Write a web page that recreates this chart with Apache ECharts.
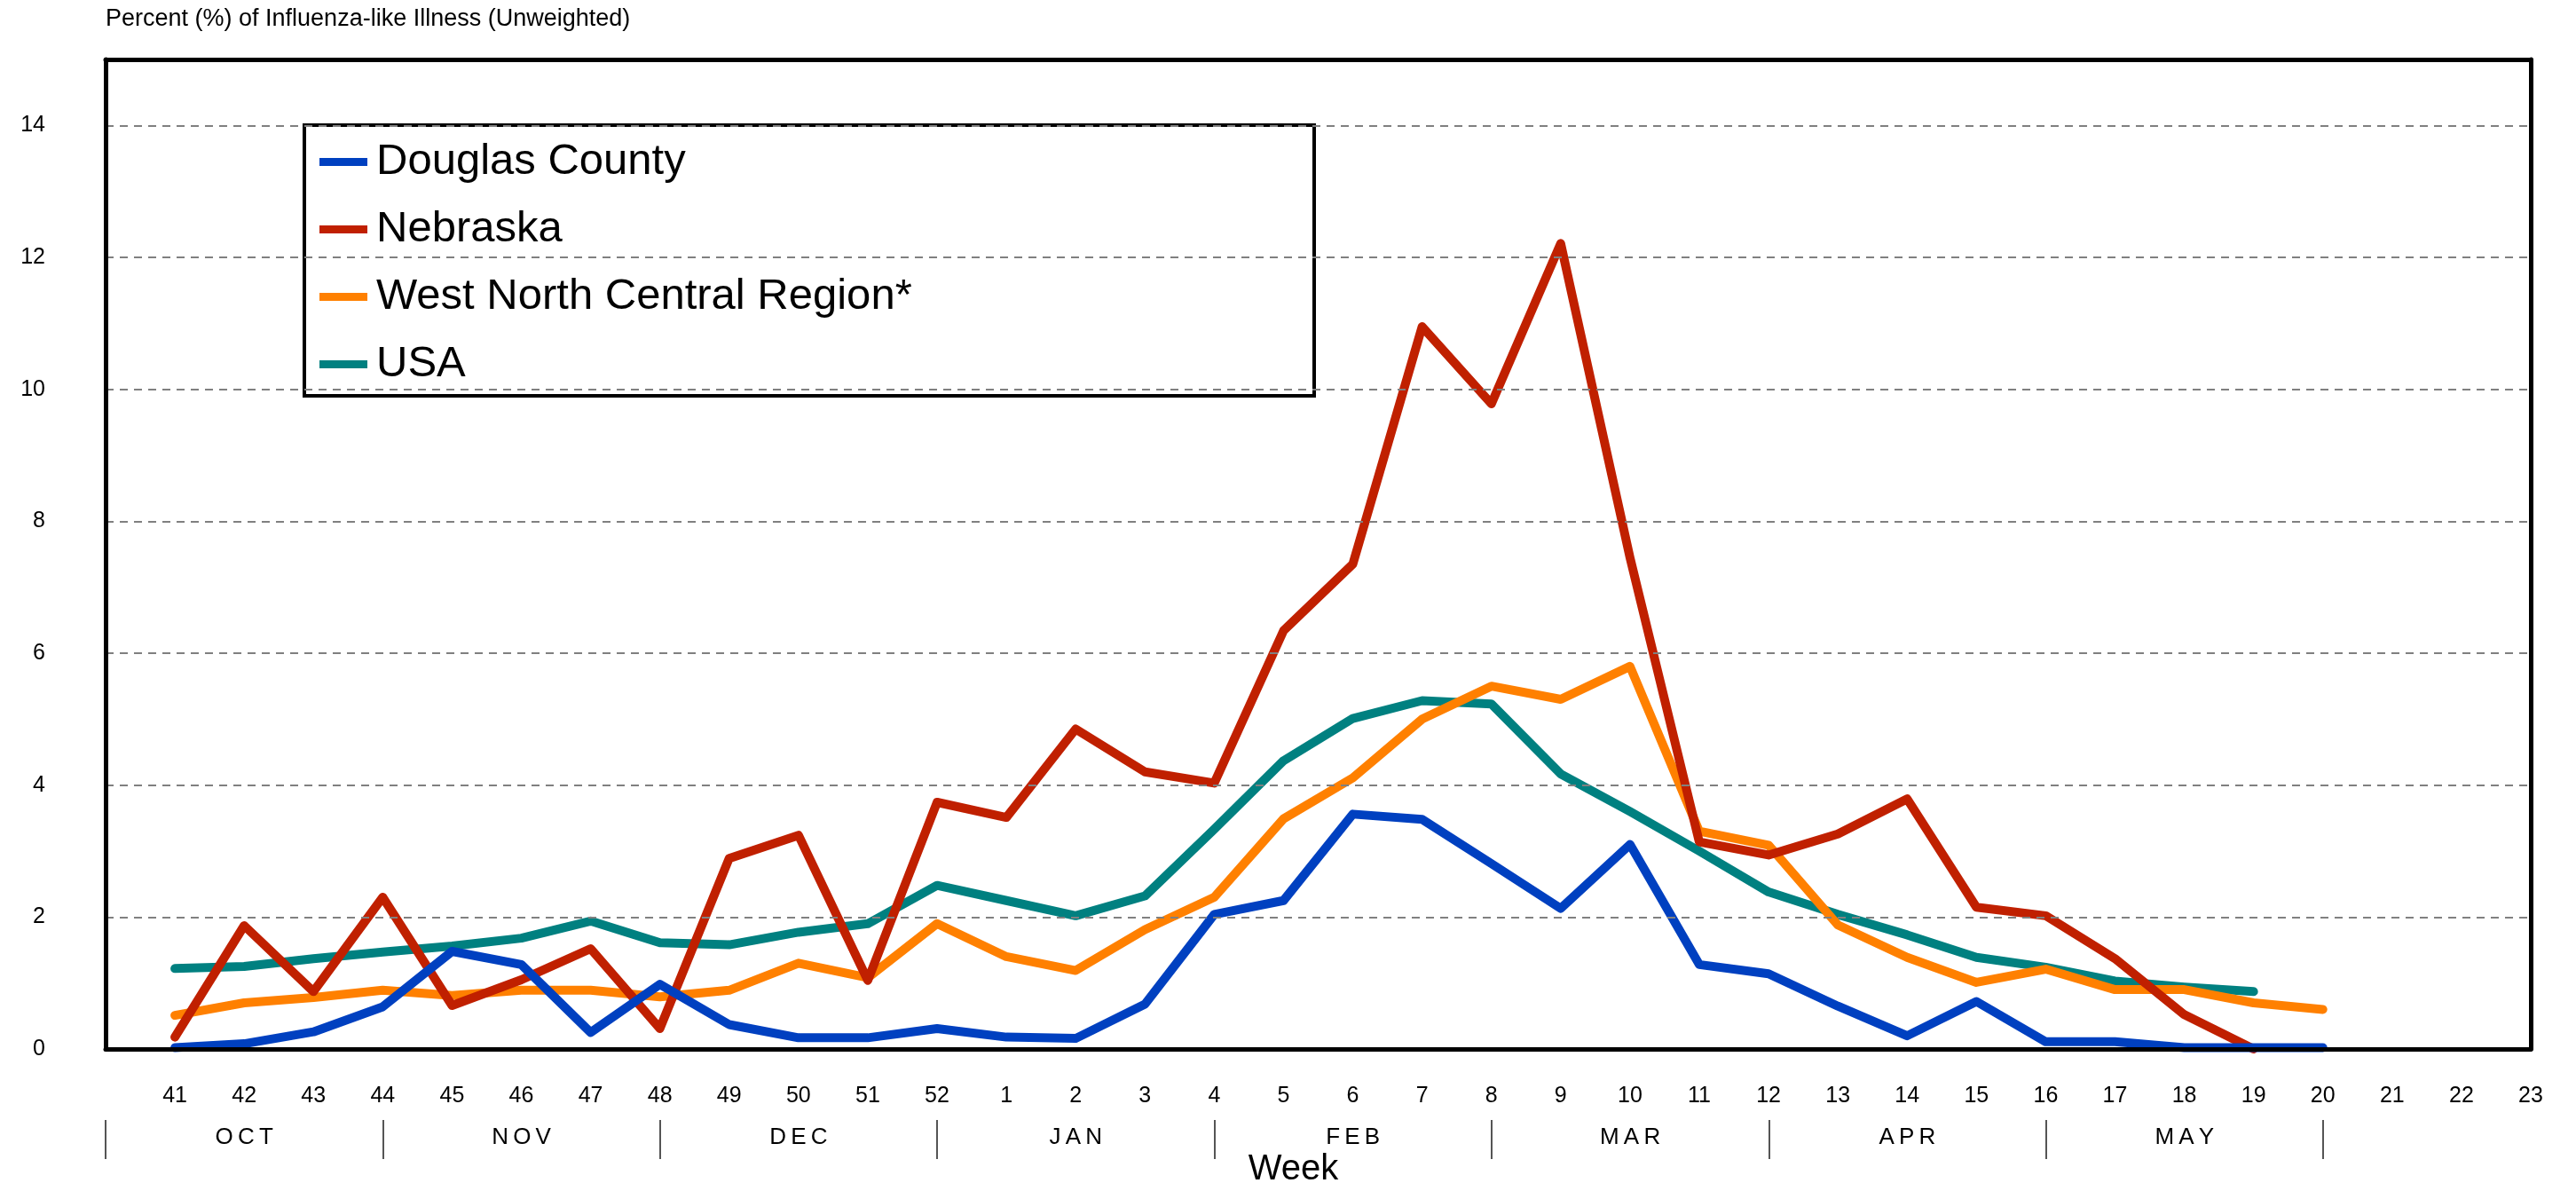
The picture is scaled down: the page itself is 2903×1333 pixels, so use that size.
<!DOCTYPE html>
<html>
<head>
<meta charset="utf-8">
<script src="https://cdn.jsdelivr.net/npm/echarts/dist/echarts.min.js"></script>
<style>
html,body{margin:0;padding:0;background:#fff;}
#chart{width:2903px;height:1333px;}
</style>
</head>
<body>
<div id="chart"></div>
<script>
// Week categories (first slot is the empty boundary before week 41)
const weeks = ['', '41','42','43','44','45','46','47','48','49','50','51','52',
  '1','2','3','4','5','6','7','8','9','10','11','12','13','14','15','16','17','18','19','20','21','22','23'];
const months = ['OCT','NOV','DEC','JAN','FEB','MAR','APR','MAY'];
const yTicks = [0, 2, 4, 6, 8, 10, 12, 14];

const seriesNames = ['Douglas County', 'Nebraska', 'West North Central Region*', 'USA'];

const douglas = [null,
  0.02,0.08,0.26,0.64,1.48,1.28,0.25,0.98,0.37,0.17,0.17,0.31,
  0.18,0.16,0.68,2.04,2.25,3.56,3.48,2.81,2.13,3.10,1.28,1.14,0.65,0.20,0.72,0.11,0.11,0.02,0.02,0.02,
  null,null,null];
const nebraska = [null,
  0.18,1.87,0.87,2.30,0.66,1.05,1.52,0.31,2.89,3.24,1.04,3.74,
  3.51,4.85,4.20,4.03,6.34,7.35,10.95,9.78,12.21,7.45,3.14,2.94,3.26,3.79,2.15,2.02,1.37,0.52,0.00,null,
  null,null,null];
const wnc = [null,
  0.51,0.70,0.78,0.89,0.81,0.89,0.89,0.79,0.89,1.30,1.08,1.90,
  1.40,1.19,1.81,2.30,3.49,4.11,5.00,5.50,5.30,5.80,3.30,3.09,1.88,1.39,1.01,1.21,0.90,0.90,0.70,0.60,
  null,null,null];
const usa = [null,
  1.22,1.25,1.37,1.47,1.56,1.68,1.94,1.61,1.58,1.77,1.90,2.48,
  2.25,2.02,2.32,3.33,4.37,5.01,5.28,5.23,4.17,3.60,3.00,2.38,2.04,1.73,1.39,1.24,1.03,0.94,0.87,null,
  null,null,null];

const colors = {
  'Douglas County': '#0040C0',
  'Nebraska': '#C02000',
  'West North Central Region*': '#FF8000',
  'USA': '#008080'
};
const FONT = '"Liberation Sans", Arial, Helvetica, sans-serif';

function lineSeries(name, data) {
  return {
    name: name, type: 'line', data: data,
    xAxisIndex: 0, yAxisIndex: 0,
    showSymbol: false, symbol: 'none', connectNulls: false,
    color: colors[name],
    lineStyle: { width: 10, color: colors[name], cap: 'round', join: 'round' },
    emphasis: { disabled: true },
    animation: false
  };
}

const chart = echarts.init(document.getElementById('chart'), null, { renderer: 'canvas' });
chart.setOption({
  animation: false,
  backgroundColor: '#ffffff',
  textStyle: { fontFamily: FONT, color: '#000' },
  title: {
    text: 'Percent (%) of Influenza-like Illness (Unweighted)',
    left: 119, top: 8, padding: 0,
    textStyle: { fontFamily: FONT, fontSize: 27, fontWeight: 'normal', color: '#000' }
  },
  graphic: [{
    type: 'rect', z: 3,
    shape: { x: 343, y: 141, width: 1138, height: 305 },
    style: { fill: '#fff', stroke: '#000', lineWidth: 4 }
  }],
  legend: {
    orient: 'vertical', left: 360, top: 158, padding: 0,
    itemGap: 27, itemWidth: 54, itemHeight: 9, icon: 'rect',
    data: seriesNames, selectedMode: false, z: 5,
    textStyle: { fontFamily: FONT, fontSize: 49, color: '#000', padding: [0, 0, 0, 5] }
  },
  grid: [
    { left: 119, right: 51, top: 67, bottom: 151, containLabel: false, outerBoundsMode: 'none' },
    { left: 119, right: 285, top: 67, bottom: 71, containLabel: false, outerBoundsMode: 'none' }
  ],
  xAxis: [
    {
      type: 'category', gridIndex: 0, data: weeks, boundaryGap: false, position: 'bottom', z: 10,
      axisLine: { show: true, onZero: false, lineStyle: { color: '#000', width: 5 } },
      axisTick: { show: false },
      axisLabel: { interval: 0, fontSize: 25, margin: 41, color: '#000', fontFamily: FONT },
      splitLine: { show: false },
      name: 'Week', nameLocation: 'middle', nameGap: 116, nameMoveOverlap: false,
      nameTextStyle: { fontSize: 40, color: '#000', fontFamily: FONT, padding: [0, 56, 0, 0] }
    },
    {
      type: 'category', gridIndex: 0, data: weeks, boundaryGap: false, position: 'top', z: 10,
      axisLine: { show: true, onZero: false, lineStyle: { color: '#000', width: 5 } },
      axisTick: { show: false }, axisLabel: { show: false }, splitLine: { show: false }
    },
    {
      type: 'category', gridIndex: 1, data: months, boundaryGap: true, position: 'bottom',
      axisLine: { show: false, onZero: false },
      axisTick: { show: true, length: 44, inside: false, lineStyle: { color: '#555', width: 2 } },
      axisLabel: {
        interval: 0, fontSize: 26, margin: 7, color: '#000', fontFamily: FONT,
        formatter: function (v) { return v.split('').join('\u2009'); }
      },
      splitLine: { show: false }
    }
  ],
  yAxis: [
    {
      type: 'value', gridIndex: 0, min: 0, max: 15, interval: 2, position: 'left', z: 9,
      axisLine: { show: true, lineStyle: { color: '#000', width: 5 } },
      axisTick: { show: false },
      axisLabel: {
        fontSize: 25, margin: 68, color: '#000', fontFamily: FONT, showMaxLabel: false,
        formatter: function (v) { return yTicks.indexOf(v) >= 0 ? String(v) : ''; }
      },
      splitLine: { show: true, lineStyle: { color: '#808080', width: 2, type: [9, 7] } }
    },
    {
      type: 'value', gridIndex: 0, min: 0, max: 15, position: 'right', z: 10,
      axisLine: { show: true, lineStyle: { color: '#000', width: 5 } },
      axisTick: { show: false }, axisLabel: { show: false }, splitLine: { show: false }
    },
    {
      type: 'value', gridIndex: 1, min: 0, max: 1, show: false
    }
  ],
  series: [
    lineSeries('USA', usa),
    lineSeries('West North Central Region*', wnc),
    lineSeries('Nebraska', nebraska),
    lineSeries('Douglas County', douglas)
  ]
});
</script>
</body>
</html>
